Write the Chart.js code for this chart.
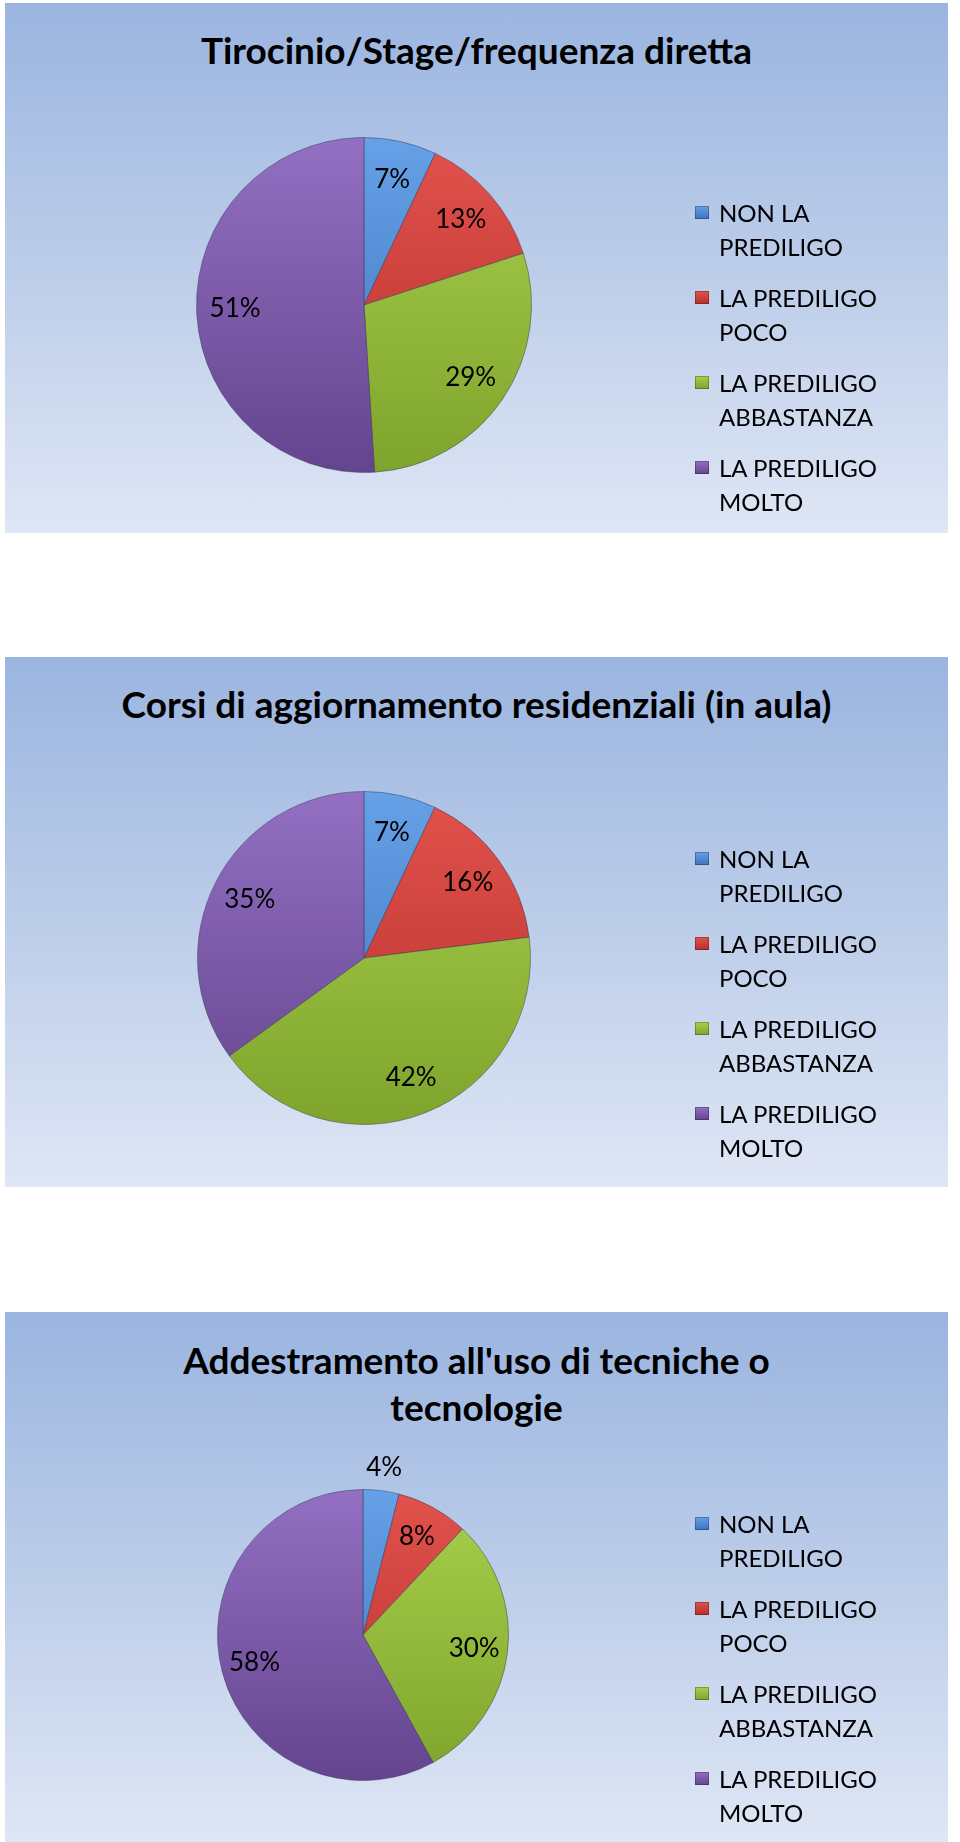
<!DOCTYPE html>
<html lang="it">
<head>
<meta charset="utf-8">
<title>Modalità formative preferite</title>
<script src="https://cdn.jsdelivr.net/npm/chart.js@4.4.1/dist/chart.umd.min.js"></script>
<style>
  body { margin: 0; background: #fff; font-family: Lato, "Open Sans", sans-serif; }
  .panel {
    position: absolute; left: 5px; width: 943px; height: 530px;
    background: linear-gradient(to bottom, #9bb5e0 0%, #bccde9 50%, #dfe6f5 100%);
  }
  .panel canvas { position: absolute; left: 0; top: 0; }
  .title {
    position: absolute; left: 0; right: 0; text-align: center;
    font-weight: bold; font-size: 37px; line-height: 47px; color: #000;
  }
  .legend { position: absolute; left: 690px; font-size: 24px; color: #000; }
  .legend .item { position: relative; padding-left: 24px; line-height: 34px; margin-bottom: 17px; }
  .legend .key {
    position: absolute; left: 0; top: 10px; width: 14px; height: 13px;
    box-shadow: inset 0 0 0 1px rgba(0,0,0,0.25);
  }
</style>
</head>
<body>

<div class="panel" id="p0" style="top:3px">
  <div class="title" style="top:23px">Tirocinio/Stage/frequenza diretta</div>
  <canvas id="c0" width="943" height="530"></canvas>
  <div class="legend" id="l0" style="top:193px"></div>
</div>

<div class="panel" id="p1" style="top:657px">
  <div class="title" style="top:23px">Corsi di aggiornamento residenziali (in aula)</div>
  <canvas id="c1" width="943" height="530"></canvas>
  <div class="legend" id="l1" style="top:185px"></div>
</div>

<div class="panel" id="p2" style="top:1312px">
  <div class="title" style="top:24px">Addestramento all'uso di tecniche o<br>tecnologie</div>
  <canvas id="c2" width="943" height="530"></canvas>
  <div class="legend" id="l2" style="top:195px"></div>
</div>

<script>
// categories (legend labels, split on two lines as in the original)
const categories = [
  ['NON LA', 'PREDILIGO'],
  ['LA PREDILIGO', 'POCO'],
  ['LA PREDILIGO', 'ABBASTANZA'],
  ['LA PREDILIGO', 'MOLTO']
];

// percentages per chart
const tirocinio = [7, 13, 29, 51];
const corsiResidenziali = [7, 16, 42, 35];
const addestramento = [4, 8, 30, 58];

// light / dark shade of each slice (top -> bottom)
const sliceColors = [
  ['#66a0e6', '#3c74bd'],
  ['#e2524c', '#b52f2c'],
  ['#a8d04c', '#7ea42c'],
  ['#9370c2', '#64448e']
];

// where each pie sits inside its panel: padding around the chart area
const pieLayouts = [
  { left: 191, right: 416, top: 134, bottom: 60 },
  { left: 192, right: 417, top: 134, bottom: 62 },
  { left: 212, right: 439, top: 177, bottom: 61 }
];

function sliceFill(ctx) {
  const chart = ctx.chart;
  const area = chart.chartArea;
  const c = sliceColors[ctx.dataIndex];
  if (!area) return c[0];
  const g = chart.ctx.createLinearGradient(0, area.top, 0, area.bottom);
  g.addColorStop(0, c[0]);
  g.addColorStop(1, c[1]);
  return g;
}

// percentage labels on the slices (small ones go outside)
const pctLabels = {
  id: 'pctLabels',
  afterDatasetsDraw(chart) {
    const ctx = chart.ctx;
    const data = chart.data.datasets[0].data;
    const total = data.reduce((s, v) => s + v, 0);
    ctx.save();
    ctx.font = '26px Lato, "Open Sans", sans-serif';
    ctx.fillStyle = '#000';
    ctx.textAlign = 'center';
    ctx.textBaseline = 'middle';
    chart.getDatasetMeta(0).data.forEach((arc, i) => {
      const p = arc.getProps(['x', 'y', 'startAngle', 'endAngle', 'outerRadius'], true);
      const mid = (p.startAngle + p.endAngle) / 2;
      const pct = Math.round(data[i] / total * 100);
      const k = pct < 5 ? 1.16 : 0.77;
      ctx.fillText(pct + '%', p.x + Math.cos(mid) * p.outerRadius * k, p.y + Math.sin(mid) * p.outerRadius * k);
    });
    ctx.restore();
  }
};

function buildLegend(id) {
  const el = document.getElementById(id);
  categories.forEach((lines, i) => {
    const item = document.createElement('div');
    item.className = 'item';
    const key = document.createElement('span');
    key.className = 'key';
    key.style.background = `linear-gradient(to bottom, ${sliceColors[i][0]}, ${sliceColors[i][1]})`;
    item.appendChild(key);
    item.appendChild(document.createTextNode(lines[0]));
    item.appendChild(document.createElement('br'));
    item.appendChild(document.createTextNode(lines[1]));
    el.appendChild(item);
  });
}

function makePie(canvasId, values, padding) {
  return new Chart(document.getElementById(canvasId), {
    type: 'pie',
    data: {
      labels: categories.map(l => l.join(' ')),
      datasets: [{
        data: values,
        backgroundColor: sliceFill,
        borderColor: 'rgba(50,50,80,0.45)',
        borderWidth: 1
      }]
    },
    options: {
      responsive: false,
      animation: false,
      layout: { padding: padding },
      plugins: {
        legend: { display: false },
        title: { display: false },
        tooltip: { callbacks: { label: item => `${item.raw}%` } }
      }
    },
    plugins: [pctLabels]
  });
}

makePie('c0', tirocinio, pieLayouts[0]);
makePie('c1', corsiResidenziali, pieLayouts[1]);
makePie('c2', addestramento, pieLayouts[2]);
buildLegend('l0');
buildLegend('l1');
buildLegend('l2');
</script>
</body>
</html>
